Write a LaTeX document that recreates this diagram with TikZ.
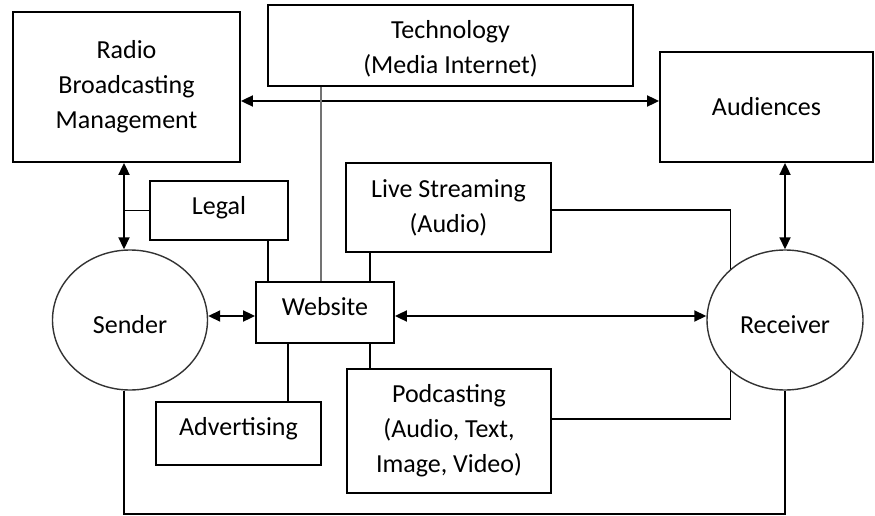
\documentclass[tikz,border=0pt]{standalone}
\usepackage{fontspec}
\setmainfont{Carlito}
\usetikzlibrary{shapes.geometric,arrows.meta}
\newcommand{\liftT}[2]{\raisebox{#1}[\height][\depth]{#2}}
\tikzset{
  base/.style={font=\fontsize{26}{35}\selectfont, align=center, inner sep=0pt},
  box/.style={base, draw, line width=1.8pt, rectangle},
  circ/.style={base, draw=black!80, line width=1.4pt, ellipse},
  link/.style={line width=1.8pt},
  dbl/.style={link, {Triangle[length=12pt,width=11pt]}-{Triangle[length=12pt,width=11pt]}},
}
\begin{document}
\begin{tikzpicture}[x=1pt,y=-1pt]
\useasboundingbox (0,0) rectangle (875,516);
\node[box, minimum width=227pt, minimum height=150pt] (radio) at (126.5,87) {Radio\\Broadcasting\\Management};
\node[box, minimum width=365pt, minimum height=81pt] (tech) at (450.5,45.5) {\liftT{-4pt}{\begin{tabular}{@{}c@{}}Technology\\(Media Internet)\end{tabular}}};
\node[box, minimum width=213pt, minimum height=110pt] (aud) at (766.5,107) {Audiences};
\node[box, minimum width=138pt, minimum height=59pt] (legal) at (219,210.5) {\liftT{3pt}{Legal}};
\node[box, minimum width=205pt, minimum height=89pt] (live) at (448.5,207.5) {Live Streaming\\(Audio)};
\node[box, minimum width=138pt, minimum height=61pt] (web) at (325,312.5) {\liftT{6pt}{Website}};
\node[box, minimum width=165pt, minimum height=63pt] (adv) at (238.5,433.5) {\liftT{5pt}{Advertising}};
\node[box, minimum width=204pt, minimum height=124pt] (pod) at (449,431) {Podcasting\\(Audio, Text,\\Image, Video)};
\node[circ, minimum width=155pt, minimum height=140pt] (sender) at (130,320) {\liftT{-5pt}{Sender}};
\node[circ, minimum width=156pt, minimum height=140pt] (rec) at (785,320) {\liftT{-5pt}{Receiver}};
% top double arrow
\draw[dbl] (radio.east |- 0,101) -- (aud.west |- 0,101);
% radio <-> sender
\draw[dbl] (radio.south -| 124,0) -- (sender.north -| 124,0);
\draw[link] (legal.west) -- (legal.west -| 124,0);
% links to website
\draw[link] (legal.south -| 268,0) -- (web.north -| 268,0);
\draw[line width=1.8pt, black!55] (tech.south -| 321,0) -- (web.north -| 321,0);
\draw[link] (live.south -| 370,0) -- (web.north -| 370,0);
\draw[link] (web.south -| 288,0) -- (adv.north -| 288,0);
\draw[link] (web.south -| 370,0) -- (pod.north -| 370,0);
% sender <-> website <-> receiver
\draw[dbl] (sender.east |- 0,316) -- (web.west |- 0,316);
\draw[dbl] (web.east |- 0,316) -- (rec.west |- 0,316);
% audiences <-> receiver
\draw[dbl] (aud.south -| rec.north) -- (rec.north);
% live / podcast to receiver
\draw[link] (live.east |- 0,210) -| (rec.137);
\draw[link] (pod.east |- 0,419) -| (rec.223);
% bottom loop
\draw[link] (sender.south -| 124,0) -- (124,514) -| (rec.south);
\end{tikzpicture}
\end{document}
